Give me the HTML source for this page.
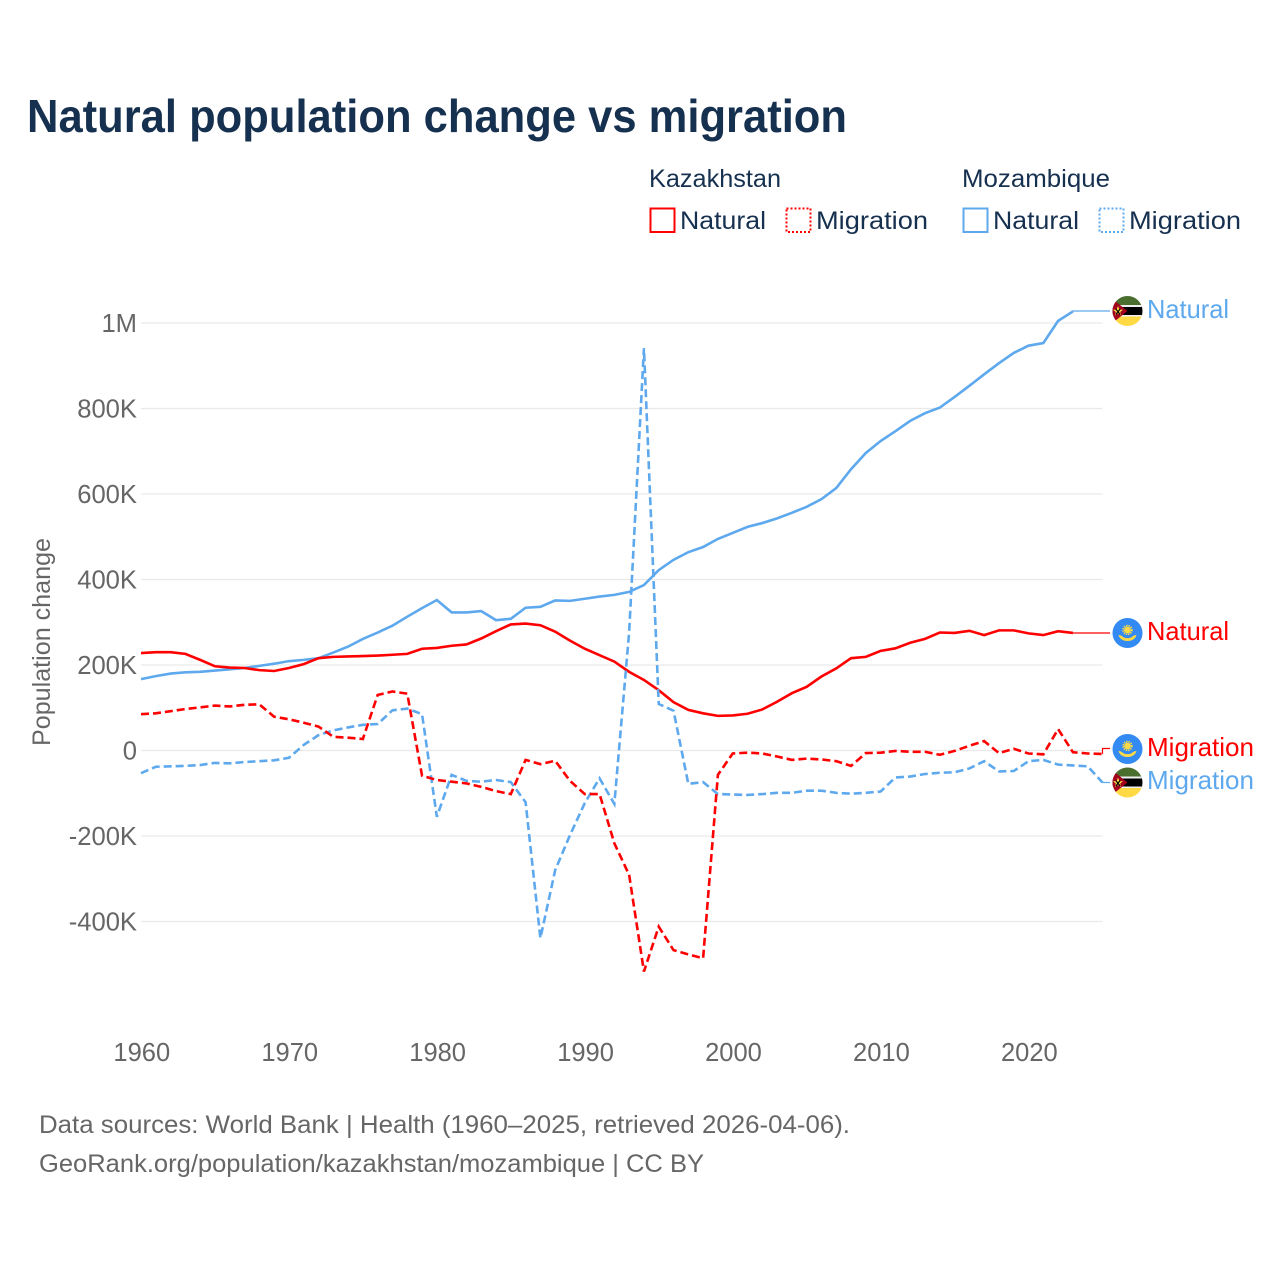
<!DOCTYPE html>
<html lang="en">
<head>
<meta charset="utf-8">
<title>Natural population change vs migration</title>
<style>
html,body{margin:0;padding:0;background:#fff;width:1280px;height:1280px;overflow:hidden}
svg{display:block}
text{font-family:"Liberation Sans",sans-serif}
</style>
</head>
<body>
<svg id="chart" xmlns="http://www.w3.org/2000/svg" width="1280" height="1280" viewBox="0 0 1280 1280">
  <defs>
    <clipPath id="flag-clip"><circle cx="15" cy="15" r="15"/></clipPath>
    <g id="flag-kz">
      <g clip-path="url(#flag-clip)">
        <rect width="30" height="30" fill="#338af3"/>
        <circle cx="15" cy="12" r="3.4" fill="#ffda44"/>
        <circle cx="15" cy="12" r="4.4" fill="none" stroke="#ffda44" stroke-width="1.6" stroke-dasharray="1.4 1"/>
        <path d="M6 17 C8 17 9.500 18 11 19.200 C13 20.400 17 20.400 19 19.200 C20.500 18 22 17 24 17 C23 20.800 19.500 23 15 23 C10.500 23 7 20.800 6 17 Z" fill="#ffda44"/>
      </g>
    </g>
    <g id="flag-mz">
      <g clip-path="url(#flag-clip)">
        <rect width="30" height="10" fill="#496e2d"/>
        <rect y="10" width="30" height="10" fill="#000"/>
        <rect y="9" width="30" height="2" fill="#f0f0f0"/>
        <rect y="19" width="30" height="2" fill="#f0f0f0"/>
        <rect y="20.500" width="30" height="10" fill="#ffda44"/>
        <path d="M0 3 L15 15 L0 27 Z" fill="#a2001d"/>
        <path d="M5.500 10 L6.900 13.500 L10.500 13.700 L7.700 16 L8.600 19.500 L5.500 17.500 L2.400 19.500 L3.300 16 L0.500 13.700 L4.100 13.500 Z" fill="#ffda44"/>
        <path d="M3.300 13 L7.700 18.500 M7.700 13 L3.300 18.500" stroke="#000" stroke-width="1.200"/>
      </g>
    </g>
  </defs>

  <text x="27" y="132" font-size="46" font-weight="700" fill="#16304f" textLength="820" lengthAdjust="spacingAndGlyphs">Natural population change vs migration</text>

  <g>
    <text x="649" y="187" font-size="25" fill="#16304f" textLength="132" lengthAdjust="spacingAndGlyphs">Kazakhstan</text>
    <text x="962" y="187" font-size="25" fill="#16304f" textLength="148" lengthAdjust="spacingAndGlyphs">Mozambique</text>
    <rect x="650.500" y="208.500" width="24" height="23.500" fill="none" stroke="#ff0000" stroke-width="2"/>
    <text x="680" y="229" font-size="25" fill="#16304f" textLength="86" lengthAdjust="spacingAndGlyphs">Natural</text>
    <rect x="786.500" y="208.500" width="24" height="23.500" fill="none" stroke="#ff0000" stroke-width="2" stroke-dasharray="2 2"/>
    <text x="816" y="229" font-size="25" fill="#16304f" textLength="112" lengthAdjust="spacingAndGlyphs">Migration</text>
    <rect x="963.500" y="208.500" width="24" height="23.500" fill="none" stroke="#5ea9ee" stroke-width="2"/>
    <text x="993" y="229" font-size="25" fill="#16304f" textLength="86" lengthAdjust="spacingAndGlyphs">Natural</text>
    <rect x="1099.500" y="208.500" width="24" height="23.500" fill="none" stroke="#5ea9ee" stroke-width="2" stroke-dasharray="2 2"/>
    <text x="1129" y="229" font-size="25" fill="#16304f" textLength="112" lengthAdjust="spacingAndGlyphs">Migration</text>
  </g>

  <g id="grid"></g>
  <g id="y-ticks"></g>
  <g id="x-ticks"></g>
  <text transform="translate(50,642) rotate(-90)" text-anchor="middle" font-size="25" fill="#666" textLength="208" lengthAdjust="spacingAndGlyphs">Population change</text>
  <g id="series"></g>

  <g>
    <use href="#flag-mz" x="1112.500" y="296"/>
    <text x="1147" y="318" font-size="26" fill="#5ea9ee" textLength="82" lengthAdjust="spacingAndGlyphs">Natural</text>
    <use href="#flag-kz" x="1112.500" y="618"/>
    <text x="1147" y="640" font-size="26" fill="#ff0000" textLength="82" lengthAdjust="spacingAndGlyphs">Natural</text>
    <use href="#flag-kz" x="1112.500" y="734"/>
    <text x="1147" y="756" font-size="26" fill="#ff0000" textLength="107" lengthAdjust="spacingAndGlyphs">Migration</text>
    <use href="#flag-mz" x="1112.500" y="767.500"/>
    <text x="1147" y="789" font-size="26" fill="#5ea9ee" textLength="107" lengthAdjust="spacingAndGlyphs">Migration</text>
  </g>

  <text x="39" y="1133" font-size="25" fill="#666" textLength="811" lengthAdjust="spacingAndGlyphs">Data sources: World Bank | Health (1960–2025, retrieved 2026-04-06).</text>
  <text x="39" y="1172" font-size="25" fill="#666" textLength="665" lengthAdjust="spacingAndGlyphs">GeoRank.org/population/kazakhstan/mozambique | CC BY</text>
</svg>
<script>
// Values in thousands of people, one per year starting at firstYear.
const firstYear = 1960;
const lastYear = 2025;
const yTickValues = [1000, 800, 600, 400, 200, 0, -200, -400];
const yTickLabels = ["1M", "800K", "600K", "400K", "200K", "0", "-200K", "-400K"];
const xTickYears = [1960, 1970, 1980, 1990, 2000, 2010, 2020];
const kazakhstanNatural = [228,230,230,226,212,197,194,193,188,186,193,202,216,219,220,221,222,224,226,238,240,245,248,262,279,295,297,293,278,257,238,223,208,184,165,141,113,95,87,81,82,86,96,114,134,149,173,192,216,219,233,239,252,261,276,275,280,270,281,281,274,270,279,275];
const kazakhstanMigration = [85,87,92,97,101,105,103,107,108,79,73,65,56,32,30,27,130,138,133,-59,-69,-73,-77,-85,-95,-102,-22,-32,-24,-71,-102,-102,-217,-291,-517,-412,-467,-477,-486,-57,-7,-5,-7,-14,-22,-19,-21,-25,-36,-6,-5,-1,-3,-3,-10,-1,11,22,-6,4,-7,-9,50,-4,-7,-8];
const mozambiqueNatural = [167,174,180,183,184,187,190,193,198,203,209,212,216,229,243,261,276,292,313,333,352,323,323,326,305,308,334,336,351,350,355,360,364,371,387,422,446,464,476,495,509,523,532,543,556,570,588,614,658,696,724,747,771,789,802,827,853,880,906,930,947,953,1005,1027];
const mozambiqueMigration = [-53,-38,-37,-36,-34,-29,-30,-27,-25,-23,-17,13,36,47,54,60,62,94,98,85,-155,-57,-71,-73,-69,-74,-121,-439,-280,-198,-123,-65,-125,277,941,109,93,-78,-74,-102,-103,-104,-102,-99,-99,-94,-94,-99,-101,-99,-96,-63,-61,-55,-52,-51,-42,-25,-49,-48,-25,-22,-33,-35,-37,-75];
const RED = '#ff0000';
const BLUE = '#5ea9ee';
const NS = 'http://www.w3.org/2000/svg';

function xScale(year) {
  return 141 + (year - firstYear) * (1102.5 - 141) / (lastYear - firstYear);
}
function yScale(value) {
  return 750.5 - value * 0.4275;
}
function make(tag, parent) {
  const el = document.createElementNS(NS, tag);
  parent.appendChild(el);
  return el;
}

const grid = document.getElementById('grid');
const yTicks = document.getElementById('y-ticks');
const xTicks = document.getElementById('x-ticks');
const seriesGroup = document.getElementById('series');

yTickValues.forEach(function (value, i) {
  const line = make('line', grid);
  
  
  line.setAttribute('x1', xScale(firstYear));
  line.setAttribute('x2', xScale(lastYear));
  line.setAttribute('y1', yScale(value));
  line.setAttribute('y2', yScale(value));
  line.setAttribute('stroke', '#e9e9e9');
  line.setAttribute('stroke-width', '1.2');

  const label = make('text', yTicks);
  
  
  label.setAttribute('x', 137);
  label.setAttribute('y', yScale(value) + 9);
  label.setAttribute('text-anchor', 'end');
  label.setAttribute('font-size', '25.6');
  label.setAttribute('fill', '#666');
  label.textContent = yTickLabels[i];
});

xTickYears.forEach(function (year) {
  const label = make('text', xTicks);
  
  
  label.setAttribute('x', xScale(year) + 0.8);
  label.setAttribute('y', 1061);
  label.setAttribute('text-anchor', 'middle');
  label.setAttribute('font-size', '25.5');
  label.setAttribute('fill', '#666');
  label.textContent = String(year);
});

function drawSeries(values, color, dashed, leaderY, name) {
  const points = values.map(function (value, i) {
    return xScale(firstYear + i).toFixed(2) + ',' + yScale(value).toFixed(2);
  });
  const path = make('polyline', seriesGroup);
  
  
  path.setAttribute('points', points.join(' '));
  path.setAttribute('fill', 'none');
  path.setAttribute('stroke', color);
  path.setAttribute('stroke-width', '2.6');
  path.setAttribute('stroke-linejoin', 'miter');
  if (dashed) {
    path.setAttribute('stroke-dasharray', '8 4');
  }

  const lastIndex = values.length - 1;
  const endX = xScale(firstYear + lastIndex);
  const endY = yScale(values[lastIndex]);
  const leader = make('polyline', seriesGroup);
  
  
  leader.setAttribute('points', endX + ',' + endY + ' ' + endX + ',' + leaderY + ' 1110,' + leaderY);
  leader.setAttribute('fill', 'none');
  leader.setAttribute('stroke', color);
  leader.setAttribute('stroke-width', '1.2');
}

drawSeries(mozambiqueNatural, BLUE, false, 311, 'mozambique-natural');
drawSeries(kazakhstanNatural, RED, false, 633, 'kazakhstan-natural');
drawSeries(mozambiqueMigration, BLUE, true, 782.5, 'mozambique-migration');
drawSeries(kazakhstanMigration, RED, true, 748.5, 'kazakhstan-migration');
</script>
</body>
</html>
